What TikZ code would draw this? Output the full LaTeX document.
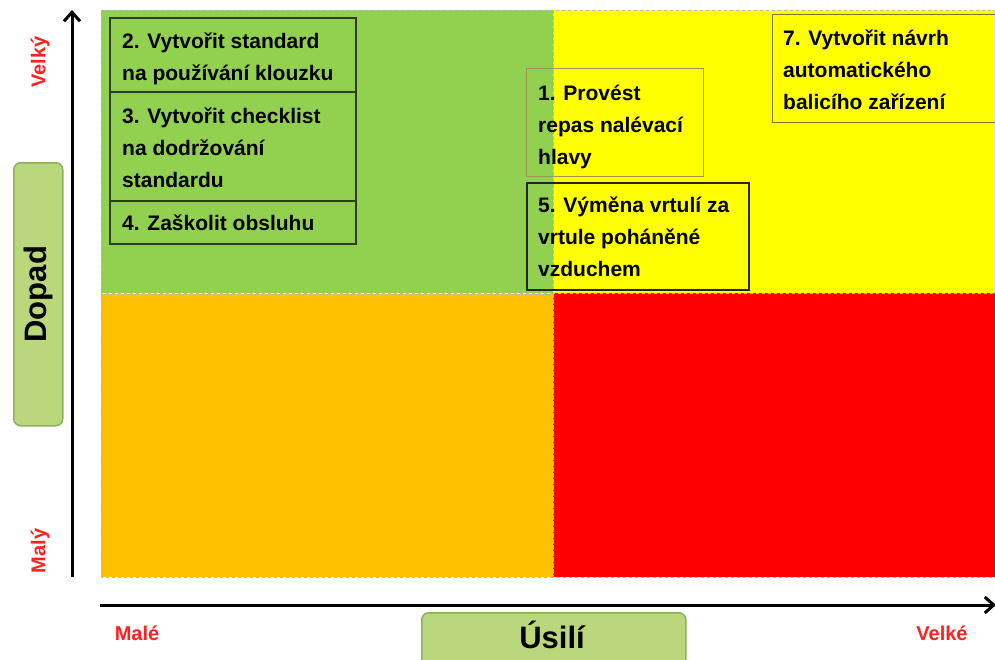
\documentclass[tikz,border=0pt]{standalone}
\usepackage{fontspec}
\setmainfont{Liberation Sans}
\usetikzlibrary{arrows.meta}
\definecolor{qgreen}{HTML}{92D050}
\definecolor{qyellow}{HTML}{FFFF00}
\definecolor{qorange}{HTML}{FFC000}
\definecolor{qred}{HTML}{FF0000}
\definecolor{lblfill}{HTML}{BAD77B}
\definecolor{lbldraw}{HTML}{8DB05A}
\definecolor{redtxt}{HTML}{FF2020}
\definecolor{box1line}{HTML}{9A9A55}
\definecolor{box7line}{HTML}{7A7A25}
\definecolor{boxline}{HTML}{2E3A22}
\newcommand{\fstrut}{\rule{0pt}{20pt}}
\begin{document}
\begin{tikzpicture}[x=1pt,y=-1pt,
  quad/.style={draw=gray!55, dashed, line width=0.6pt},
  taskbox/.style={draw=#1, line width=1.5pt, inner sep=0pt, anchor=north west, rectangle},
  tasktext/.style={font=\bfseries\fontsize{21}{32}\selectfont, align=left, inner sep=0pt, anchor=north west},
  axislabel/.style={rectangle, rounded corners=7pt, fill=lblfill, draw=lbldraw, line width=1.5pt, inner sep=0pt},
  axistitle/.style={font=\bfseries\fontsize{31}{36}\selectfont, inner sep=0pt},
  scaletxt/.style={font=\bfseries\fontsize{20}{24}\selectfont, text=redtxt, inner sep=0pt},
  axisline/.style={line width=3pt, -{Straight Barb[length=9pt, width=16pt, line width=3pt]}}
]
\useasboundingbox (0,0) rectangle (995,659);
\fill[white] (0,0) rectangle (995,659);
% quadrants
\fill[qgreen] (101,10) rectangle (553,293);
\fill[qyellow] (553,10) rectangle (996,293);
\fill[qorange] (101,294) rectangle (553,577);
\fill[qred] (553,293) rectangle (996,577);
\draw[quad] (101,10) rectangle (553,293);
\draw[quad] (553,10) rectangle (996,293);
\draw[quad] (101,294) rectangle (553,577);
\draw[quad] (553,293) rectangle (996,577);
% axes
\coordinate (ybot) at (72,577);
\coordinate (ytop) at (72,10);
\coordinate (xleft) at (100,605);
\coordinate (xright) at (996,605);
\draw[axisline] (ybot) -- (ytop);
\draw[axisline] (xleft) -- (xright);
% axis titles
\node[axislabel, minimum width=49, minimum height=263, anchor=north west] (dopadbox) at (13,162) {};
\node[axistitle, rotate=90] (dopad) at (dopadbox.center) {Dopad};
\node[axislabel, minimum width=264, minimum height=60, anchor=north west] (usilibox) at (421,612) {};
\node[axistitle, anchor=base] (usili) at (552,648) {Úsilí};
% scale labels
\node[scaletxt, rotate=90] (velky) at (40,62) {Velký};
\node[scaletxt, rotate=90] (maly) at (40,551) {Malý};
\node[scaletxt] (male) at (137,633) {Malé};
\node[scaletxt] (velke) at (942,633) {Velké};
% task boxes
\node[taskbox=boxline, minimum width=246, minimum height=74] (b2) at (109,17) {};
\node[taskbox=boxline, minimum width=246, minimum height=109] (b3) at (109,91) {};
\node[taskbox=boxline, minimum width=246, minimum height=43] (b4) at (109,200) {};
\node[taskbox=box1line, line width=1.2pt, minimum width=177, minimum height=108] (b1) at (526,68) {};
\node[taskbox=black!85, minimum width=222, minimum height=107] (b5) at (526,182) {};
\node[taskbox=box7line, line width=1.2pt, minimum width=240, minimum height=108] (b7) at (772,14) {};
\node[tasktext] (t2) at (122,28) {\fstrut 2. Vytvořit standard\\na používání klouzku};
\node[tasktext] (t3) at (122,103) {\fstrut 3. Vytvořit checklist\\na dodržování\\standardu};
\node[tasktext] (t4) at (122,210) {\fstrut 4. Zaškolit obsluhu};
\node[tasktext] (t1) at (538,80) {\fstrut 1. Provést\\repas nalévací\\hlavy};
\node[tasktext] (t5) at (538,192) {\fstrut 5. Výměna vrtulí za\\vrtule poháněné\\vzduchem};
\node[tasktext] (t7) at (783,25) {\fstrut 7. Vytvořit návrh\\automatického\\balicího zařízení};
\end{tikzpicture}
\end{document}
